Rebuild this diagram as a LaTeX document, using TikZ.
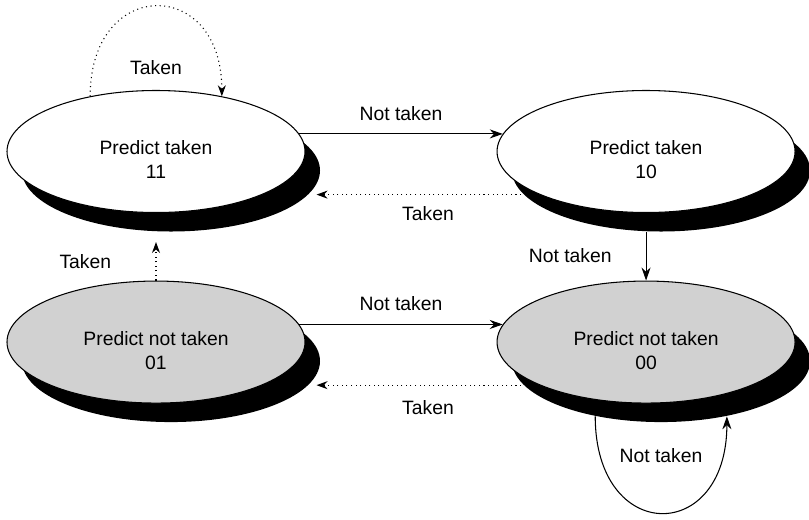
\documentclass[tikz,border=0pt]{standalone}
\usepackage{fontspec}
\setmainfont{Liberation Sans}
\usetikzlibrary{arrows.meta,positioning,shapes.geometric,shadows}

\begin{document}
\begin{tikzpicture}[
  node distance=1.35cm and 3.82cm,
  font=\fontsize{11}{13.6}\selectfont,
  predt/.style={ellipse, draw, line width=0.6pt, inner sep=0pt,
                minimum width=5.96cm, minimum height=2.44cm, align=center,
                text height=31pt, fill=white,
                drop shadow={shadow xshift=0.3cm,
                shadow yshift=-0.38cm, fill=black, opacity=1}},
  predn/.style={predt, fill=black!18},
  ntedge/.style={-{Stealth[length=2.6mm, width=1.8mm]}, line width=0.6pt},
  tkedge/.style={-{Stealth[length=2.2mm, width=1.6mm]}, line width=0.6pt,
                 dotted},
]
\useasboundingbox (0,0) rectangle (16.18,-10.38);

% States
\node[predt] (s11) at (3.12,-3.03) {Predict taken\\11};
\node[predt, right=of s11] (s10) {Predict taken\\10};
\node[predn, below=of s11] (s01) {Predict not taken\\01};
\node[predn, right=of s01] (s00) {Predict not taken\\00};

% Top row
\draw[ntedge] (s11.7) -- (s10.173) node[midway, above=4pt] {Not taken};
\draw[tkedge] (s10.202) -- ([xshift=0.22cm]s10.202 -| s11.east)
      node[midway, below=3pt] {Taken};

% Vertical transitions
\draw[ntedge] ([yshift=-0.37cm]s10.south) -- (s00.north)
      node[midway, left=0.56cm] {Not taken};
\draw[tkedge] (s01.north) -- ([yshift=-0.58cm]s11.south)
      node[midway, left=0.77cm] {Taken};

% Bottom row
\draw[ntedge] (s01.7) -- (s00.173) node[midway, above=4pt] {Not taken};
\draw[tkedge] (s00.202) -- ([xshift=0.22cm]s00.202 -| s01.east)
      node[midway, below=5pt] {Taken};

% Self loops
\draw[tkedge] (s11.140) to[out=90, in=90, looseness=2.33]
      node[midway, below=0.95cm] {Taken} (s11.40);
\draw[ntedge] ([shift={(0.3,-0.38)}]s00.220) to[out=-90, in=-90, looseness=2.5]
      node[midway, above=0.87cm] {Not taken} ([shift={(0.3,-0.38)}]s00.320);
\end{tikzpicture}
\end{document}
